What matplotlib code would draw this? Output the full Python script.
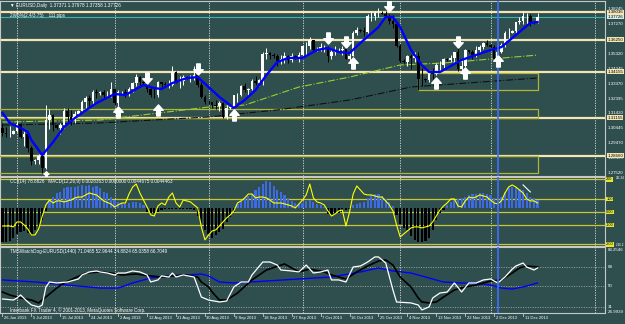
import numpy as np
import matplotlib
matplotlib.use('Agg')
import matplotlib.pyplot as plt
from matplotlib import font_manager
from matplotlib.path import Path
from matplotlib.patches import Rectangle

# ---- data (EURUSD daily, broker with Sunday bars) ----
open_ = [1.3050, 1.3015, 1.3005, 1.3010, 1.3030, 1.3075, 1.2985, 1.3010, 1.2915, 1.2830,
         1.2835, 1.2865, 1.2785, 1.3100, 1.3130, 1.3065, 1.3050, 1.3065, 1.3160, 1.3120,
         1.3100, 1.3140, 1.3160, 1.3220, 1.3240, 1.3225, 1.3280, 1.3275, 1.3280, 1.3260,
         1.3265, 1.3300, 1.3210, 1.3280, 1.3285, 1.3270, 1.3300, 1.3340, 1.3380, 1.3345,
         1.3340, 1.3300, 1.3265, 1.3260, 1.3345, 1.3335, 1.3330, 1.3330, 1.3415, 1.3355,
         1.3355, 1.3380, 1.3375, 1.3375, 1.3395, 1.3330, 1.3250, 1.3220, 1.3215, 1.3200,
         1.3190, 1.3210, 1.3120, 1.3180, 1.3185, 1.3260, 1.3265, 1.3320, 1.3295, 1.3300,
         1.3355, 1.3340, 1.3360, 1.3530, 1.3540, 1.3525, 1.3515, 1.3485, 1.3500, 1.3515,
         1.3490, 1.3520, 1.3500, 1.3525, 1.3580, 1.3580, 1.3620, 1.3555, 1.3565, 1.3575,
         1.3575, 1.3515, 1.3545, 1.3555, 1.3560, 1.3565, 1.3500, 1.3520, 1.3665, 1.3685,
         1.3680, 1.3675, 1.3780, 1.3780, 1.3800, 1.3800, 1.3795, 1.3780, 1.3745, 1.3730,
         1.3585, 1.3485, 1.3480, 1.3515, 1.3505, 1.3520, 1.3370, 1.3365, 1.3360, 1.3410,
         1.3400, 1.3460, 1.3460, 1.3495, 1.3490, 1.3505, 1.3545, 1.3435, 1.3450, 1.3555,
         1.3545, 1.3525, 1.3560, 1.3575, 1.3600, 1.3590, 1.3575, 1.3500, 1.3545, 1.3590,
         1.3665, 1.3670, 1.3680, 1.3740, 1.3745, 1.3780, 1.3780, 1.3740, 1.37371]
high = [1.3080, 1.3055, 1.3060, 1.3035, 1.3090, 1.3080, 1.3030, 1.3020, 1.2930, 1.2845,
        1.2880, 1.2880, 1.3200, 1.3170, 1.3140, 1.3075, 1.3080, 1.3180, 1.3175, 1.3165,
        1.3160, 1.3165, 1.3230, 1.3255, 1.3260, 1.3295, 1.3300, 1.3290, 1.3295, 1.3290,
        1.3345, 1.3310, 1.3295, 1.3290, 1.3300, 1.3315, 1.3345, 1.3400, 1.3390, 1.3355,
        1.3350, 1.3310, 1.3310, 1.3355, 1.3350, 1.3345, 1.3360, 1.3450, 1.3420, 1.3390,
        1.3395, 1.3385, 1.3395, 1.3450, 1.3410, 1.3345, 1.3260, 1.3230, 1.3220, 1.3230,
        1.3225, 1.3215, 1.3200, 1.3190, 1.3265, 1.3275, 1.3325, 1.3340, 1.3310, 1.3365,
        1.3385, 1.3370, 1.3545, 1.3570, 1.3545, 1.3535, 1.3530, 1.3525, 1.3545, 1.3525,
        1.3540, 1.3525, 1.3545, 1.3590, 1.3610, 1.3645, 1.3625, 1.3575, 1.3605, 1.3590,
        1.3585, 1.3570, 1.3585, 1.3570, 1.3580, 1.3575, 1.3550, 1.3680, 1.3705, 1.3695,
        1.3705, 1.3795, 1.3810, 1.3810, 1.3832, 1.3810, 1.3815, 1.3790, 1.3785, 1.3740,
        1.3595, 1.3495, 1.3525, 1.3530, 1.3545, 1.3545, 1.3440, 1.3375, 1.3420, 1.3440,
        1.3470, 1.3485, 1.3505, 1.3505, 1.3525, 1.3545, 1.3575, 1.3495, 1.3565, 1.3560,
        1.3560, 1.3580, 1.3590, 1.3610, 1.3620, 1.3595, 1.3590, 1.3555, 1.3605, 1.3680,
        1.3700, 1.3685, 1.3740, 1.3775, 1.3810, 1.3800, 1.3790, 1.3745, 1.37978]
low = [1.2995, 1.2990, 1.2985, 1.3005, 1.3020, 1.2980, 1.2930, 1.2890, 1.2805, 1.2810,
       1.2810, 1.2755, 1.2780, 1.3040, 1.3030, 1.3040, 1.3010, 1.3050, 1.3085, 1.3065,
       1.3080, 1.3135, 1.3145, 1.3180, 1.3185, 1.3200, 1.3245, 1.3265, 1.3245, 1.3240,
       1.3250, 1.3195, 1.3190, 1.3270, 1.3250, 1.3255, 1.3280, 1.3320, 1.3325, 1.3330,
       1.3285, 1.3250, 1.3240, 1.3250, 1.3315, 1.3325, 1.3310, 1.3320, 1.3340, 1.3310,
       1.3330, 1.3365, 1.3350, 1.3360, 1.3315, 1.3245, 1.3205, 1.3205, 1.3180, 1.3170,
       1.3160, 1.3110, 1.3105, 1.3170, 1.3175, 1.3220, 1.3255, 1.3280, 1.3255, 1.3295,
       1.3330, 1.3320, 1.3330, 1.3500, 1.3500, 1.3505, 1.3455, 1.3465, 1.3470, 1.3470,
       1.3480, 1.3495, 1.3480, 1.3520, 1.3520, 1.3565, 1.3545, 1.3550, 1.3550, 1.3545,
       1.3480, 1.3495, 1.3525, 1.3545, 1.3525, 1.3495, 1.3485, 1.3515, 1.3655, 1.3675,
       1.3650, 1.3665, 1.3745, 1.3750, 1.3770, 1.3790, 1.3770, 1.3730, 1.3700, 1.3575,
       1.3475, 1.3470, 1.3450, 1.3435, 1.3480, 1.3295, 1.3320, 1.3350, 1.3345, 1.3370,
       1.3395, 1.3410, 1.3440, 1.3485, 1.3480, 1.3480, 1.3420, 1.3400, 1.3445, 1.3540,
       1.3500, 1.3510, 1.3540, 1.3565, 1.3580, 1.3570, 1.3495, 1.3475, 1.3540, 1.3575,
       1.3620, 1.3665, 1.3665, 1.3730, 1.3730, 1.3730, 1.3715, 1.3730, 1.37358]
close = [1.3015, 1.3005, 1.3010, 1.3030, 1.3075, 1.2985, 1.3010, 1.2915, 1.2830, 1.2835,
         1.2865, 1.2785, 1.3100, 1.3130, 1.3065, 1.3050, 1.3065, 1.3160, 1.3120, 1.3100,
         1.3140, 1.3160, 1.3220, 1.3240, 1.3225, 1.3280, 1.3275, 1.3280, 1.3260, 1.3265,
         1.3300, 1.3210, 1.3280, 1.3285, 1.3270, 1.3300, 1.3340, 1.3380, 1.3345, 1.3340,
         1.3300, 1.3265, 1.3260, 1.3345, 1.3335, 1.3330, 1.3330, 1.3415, 1.3355, 1.3355,
         1.3380, 1.3375, 1.3375, 1.3395, 1.3330, 1.3250, 1.3220, 1.3215, 1.3200, 1.3190,
         1.3210, 1.3120, 1.3180, 1.3185, 1.3260, 1.3265, 1.3320, 1.3295, 1.3300, 1.3355,
         1.3340, 1.3360, 1.3530, 1.3540, 1.3525, 1.3515, 1.3485, 1.3500, 1.3515, 1.3490,
         1.3520, 1.3500, 1.3525, 1.3580, 1.3580, 1.3620, 1.3555, 1.3565, 1.3575, 1.3575,
         1.3515, 1.3545, 1.3555, 1.3560, 1.3565, 1.3500, 1.3520, 1.3665, 1.3685, 1.3680,
         1.3675, 1.3780, 1.3780, 1.3800, 1.3800, 1.3795, 1.3780, 1.3745, 1.3730, 1.3585,
         1.3485, 1.3480, 1.3515, 1.3505, 1.3520, 1.3370, 1.3365, 1.3360, 1.3410, 1.3400,
         1.3460, 1.3460, 1.3495, 1.3490, 1.3505, 1.3545, 1.3435, 1.3450, 1.3555, 1.3545,
         1.3525, 1.3560, 1.3575, 1.3600, 1.3590, 1.3575, 1.3500, 1.3545, 1.3590, 1.3665,
         1.3670, 1.3680, 1.3740, 1.3745, 1.3780, 1.3780, 1.3740, 1.3737, 1.37726]

# blue moving average (bar index, price)
ma_idx = [0, 2, 5, 7, 8, 11, 14, 17, 20, 22, 26, 31, 34, 39, 42, 44, 47, 51, 54, 57, 60, 64,
          67, 70, 73, 76, 79, 83, 87, 90, 93, 96, 99, 104, 106, 108, 110, 113, 116, 118, 121,
          127, 135, 138, 143, 146, 148]
ma_val = [1.3145, 1.3080, 1.3047, 1.3021, 1.2968, 1.2870, 1.2955, 1.3053, 1.3112, 1.3145,
          1.3210, 1.3269, 1.3263, 1.3328, 1.3308, 1.3302, 1.3341, 1.3374, 1.3380, 1.3315,
          1.3250, 1.3178, 1.3230, 1.3295, 1.3393, 1.3478, 1.3505, 1.3505, 1.3557, 1.3570,
          1.3544, 1.3537, 1.3603, 1.3707, 1.3773, 1.3773, 1.3707, 1.3557, 1.3459, 1.3413,
          1.3413, 1.3492, 1.3557, 1.3576, 1.3675, 1.3734, 1.3740]
# long averages, dash-dot
sma_g_idx = [0, 27, 57, 67, 82, 96, 110, 122, 148]
sma_g_val = [1.3086, 1.3099, 1.3184, 1.3197, 1.3315, 1.3380, 1.3459, 1.3472, 1.3524]
sma_k_idx = [0, 27, 57, 76, 96, 113, 148]
sma_k_val = [1.3066, 1.3080, 1.3119, 1.3165, 1.3230, 1.3315, 1.3374]

# signal arrows (bar index, price)
dn_idx = [40, 54, 90, 95, 107, 126]
dn_val = [1.3374, 1.3433, 1.3635, 1.3609, 1.3845, 1.3609]
up_idx = [32, 43, 64, 97, 120, 128, 137]
up_val = [1.3152, 1.3165, 1.3132, 1.3472, 1.3341, 1.3407, 1.3485]
small_up_idx = [12]
small_up_val = [1.2745]

# horizontal levels and boxes
levels = [1.38036, 1.36250, 1.34155, 1.31155, 1.28660]
boxes = [(115, 148, 1.3295, 1.3407), (-5, 148, 1.3112, 1.3171), (-5, 148, 1.2752, 1.2866)]
price_ticks = [1.38245, 1.37270, 1.36295, 1.35320, 1.34345, 1.33370, 1.32395, 1.31420,
               1.30445, 1.29470, 1.28495, 1.27520]

# CCI (yellow line) and MACD histogram, per bar
cci = [-108, -108, -108, -115, -77, -77, -100, -131, -177, -177,
       -131, -31, 54, 92, 69, 85, 85, 77, 85, 92,
       108, 115, 115, 131, 146, 138, 131, 108, 85, 73,
       62, 38, 54, 69, 69, 138, 192, 215, 146, 92,
       38, -23, -31, 46, 69, 54, 115, 146, 69, 38,
       92, 85, 77, 54, 31, -115, -215, -177, -146, -138,
       -108, -77, -46, -23, 8, 69, 85, 108, 138, 138,
       108, 115, 115, 108, 92, 69, 69, 69, 62, 54,
       46, 31, 62, 92, 131, 215, 108, 77, 69, 54,
       8, -31, -15, 8, 15, -108, 0, 138, 200, 169,
       138, 131, 131, 123, 115, 115, 85, 54, 8, -100,
       -192, -169, -146, -123, -115, -115, -123, -115, -108, -77,
       -31, 15, 46, 69, 100, 100, 46, 38, 85, 115,
       108, 115, 131, 123, 115, 92, 69, 62, 85, 146,
       192, 208, 192, 169, 146, 100, 85, 85, 69]
hist = [-262, -262, -254, -231, -200, -185, -177, -192, -208, -169,
        -146, -92, -23, 62, 85, 115, 123, 154, 162, 162,
        162, 165, 177, 169, 177, 162, 169, 154, 123, 115,
        85, 62, 46, 38, 31, 38, 46, 46, 38, 23,
        -31, -38, -38, -31, -15, -8, -8, -8, -8, -8,
        -8, -8, -12, -15, -62, -115, -169, -200, -231, -208,
        -185, -162, -108, -69, -31, 31, 54, 77, 92, 108,
        138, 162, 185, 208, 200, 169, 138, 123, 100, 77,
        54, 38, 31, 38, 54, 62, 46, 31, 23, 8,
        -46, -54, -46, -38, -31, -15, -8, 23, 31, 38,
        46, 77, 100, 108, 108, 92, 69, 46, 15, -54,
        -123, -154, -169, -215, -246, -262, -262, -254, -231, -169,
        -92, -38, -15, 23, 46, 62, 69, 77, 85, 100,
        108, 108, 115, 115, 108, 100, 77, 62, 85, 123,
        154, 162, 162, 146, 138, 115, 85, 77, 62]
hist_base = 31
cci_levels = [250, 100, 0, -100, -250]
cci_tags = ['200', '100', '0.00', '-100', '-200']
cci_extremes = [(262, '211.34'), (-255, '-216.2')]
cci_trend_idx = [144, 146]
cci_trend_val = [208, 154]

# TMSWatchDog lines (bar index, value)
wd_white_idx = [0, 3, 4, 5, 7, 8, 10, 11, 12, 13, 15, 18, 21, 22, 24, 26, 27, 29, 31, 32,
                34, 36, 38, 40, 41, 43, 44, 46, 47, 48, 50, 53, 54, 55, 57, 60, 62, 64, 66,
                68, 69, 72, 74, 76, 77, 80, 82, 84, 86, 88, 90, 91, 93, 95, 97, 99, 101,
                103, 104, 106, 108, 109, 113, 115, 116, 118, 119, 121, 123, 125, 127, 129,
                131, 133, 135, 137, 139, 141, 142, 144, 145, 147, 148]
wd_white = [38.0, 37.0, 38.9, 41.7, 35.2, 32.4, 30.6, 32.4, 49.1, 53.7, 52.8, 53.7, 56.5,
            60.2, 63.0, 63.9, 63.0, 62.0, 60.2, 62.0, 62.0, 63.9, 63.0, 60.2, 53.7, 55.6,
            59.3, 58.3, 62.0, 58.3, 60.2, 58.3, 49.1, 39.8, 37.0, 35.2, 36.1, 49.1, 53.7,
            53.7, 60.2, 72.2, 72.2, 69.4, 64.8, 63.9, 63.0, 69.4, 62.0, 63.0, 64.8, 55.6,
            55.6, 53.7, 67.6, 68.5, 72.2, 76.9, 76.9, 71.3, 46.3, 35.2, 34.3, 32.4, 27.8,
            30.6, 38.9, 43.5, 44.4, 52.8, 44.4, 52.8, 52.8, 55.6, 56.5, 52.8, 58.3, 65.7,
            68.5, 71.3, 67.6, 64.8, 66.7]
wd_black_idx = [0, 2, 5, 8, 10, 12, 15, 17, 20, 23, 27, 30, 33, 37, 41, 44, 47, 51, 54, 55,
                57, 58, 60, 62, 65, 69, 73, 78, 82, 85, 89, 91, 95, 98, 101, 104, 106, 108,
                110, 113, 115, 116, 118, 120, 122, 125, 128, 131, 135, 138, 141, 143, 145,
                148]
wd_black = [44.4, 41.7, 38.9, 37.0, 34.3, 39.8, 48.1, 52.8, 57.4, 62.0, 63.0, 62.0, 60.2,
            61.1, 59.3, 58.3, 59.3, 60.2, 58.3, 53.7, 49.1, 44.4, 37.0, 37.0, 43.5, 55.6,
            64.8, 70.4, 63.0, 65.7, 63.0, 60.2, 56.5, 63.0, 68.5, 73.1, 74.1, 69.4, 58.3,
            49.1, 38.9, 35.2, 34.3, 35.2, 39.8, 46.3, 49.1, 50.9, 54.6, 55.6, 62.0, 66.7,
            68.5, 67.6]
wd_blue_idx = [0, 9, 18, 27, 32, 36, 41, 46, 51, 55, 57, 60, 64, 73, 82, 91, 99, 104, 108,
               113, 117, 122, 127, 131, 135, 138, 141, 144, 148]
wd_blue = [55.6, 53.7, 50.9, 48.1, 48.1, 52.8, 57.4, 59.3, 60.2, 61.1, 59.3, 53.7, 52.8,
           54.6, 56.5, 58.3, 63.0, 66.7, 63.9, 62.0, 58.3, 53.7, 52.8, 52.8, 50.9, 48.1,
           47.2, 49.1, 52.8]
wd_levels = [68, 50, 31]
wd_tags = [(83.25, '83.2546'), (68, '68'), (50, '50'), (31, '31'), (26.0, '24.9939')]

date_labels = ['26 Jun 2013', '5 Jul 2013', '15 Jul 2013', '24 Jul 2013', '2 Aug 2013',
               '12 Aug 2013', '21 Aug 2013', '30 Aug 2013', '9 Sep 2013', '18 Sep 2013',
               '27 Sep 2013', '7 Oct 2013', '16 Oct 2013', '25 Oct 2013', '4 Nov 2013',
               '13 Nov 2013', '22 Nov 2013', '2 Dec 2013', '11 Dec 2013']
month_starts = [4, 31, 57, 83, 110, 135, 164]   # period separators
marker_bar = 137                               # blue vertical line

# ---- styling ----
names = {f.name for f in font_manager.fontManager.ttflist}
if 'Liberation Sans Narrow' in names:
    FONT, K = 'Liberation Sans Narrow', 1.0
else:
    FONT, K = 'Liberation Sans', 0.82
plt.rcParams['font.family'] = [FONT, 'DejaVu Sans']
FS = 4.1 * K      # header texts
FSR = 3.8 * K     # right scale labels
FSD = 3.6 * K     # date labels

BG = '#2f4f4f'
CREAM = '#f3e6b4'
OLIVE = '#b4b432'
GRID = '#c8c8c8'
W, H = 625, 324
X0, X1 = -0.69, 166.66


def px_axes(y0, y1, x0=0, x1=605):
    ax = fig.add_axes([x0 / W, 1 - y1 / H, (x1 - x0) / W, (y1 - y0) / H])
    ax.set_facecolor(BG)
    ax.set_xlim(X0, X1)
    ax.set_xticks([])
    ax.set_yticks([])
    for s in ax.spines.values():
        s.set_color(GRID)
        s.set_linewidth(0.8)
    for m in month_starts:
        ax.axvline(m, color='#dcdcdc', lw=0.6, ls=(0, (1.5, 1.5)), zorder=1)
    ax.axvline(marker_bar, color='#3f6fff', lw=1.2, zorder=6)
    return ax


def arrow_path(sign):
    v = [(0, 1), (0.85, 0.05), (0.32, 0.05), (0.32, -1), (-0.32, -1), (-0.32, 0.05),
         (-0.85, 0.05), (0, 1)]
    return Path([(x, sign * y) for x, y in v], closed=True)


def tag(ax, y, text, fc=None, color='white', dx=0.004, ha='left', size=None):
    kw = dict(transform=ax.get_yaxis_transform(), color=color, fontsize=size or FSR,
              va='center', ha=ha, clip_on=False, zorder=9)
    if fc:
        kw['bbox'] = dict(boxstyle='square,pad=0.1', fc=fc, ec='none')
    ax.text(1 + dx, y, text, **kw)


fig = plt.figure(figsize=(6.25, 3.24), dpi=100)
fig.patch.set_facecolor(BG)

# ---- main price window ----
ax = px_axes(1, 176)
ax.set_ylim(1.27330, 1.38775)
bars = np.arange(len(close))
o, h, l, c = map(np.array, (open_, high, low, close))
bull = c >= o
col = np.where(bull, 'white', 'black')
for lv in levels:
    ax.axhline(lv, color=CREAM, lw=1.6, zorder=2)
ax.axhline(close[-1], color='#3cb4aa', lw=0.8, zorder=2)
for b0, b1, p0, p1 in boxes:
    ax.add_patch(Rectangle((b0, p0), b1 - b0, p1 - p0, fill=False, ec=OLIVE, lw=0.9, zorder=3))
ax.plot(sma_g_idx, sma_g_val, color='#9acd32', lw=0.8, ls='-.', zorder=3)
ax.plot(sma_k_idx, sma_k_val, color='#101010', lw=0.8, ls='-.', zorder=3)
ax.vlines(bars, l, h, colors=col, lw=0.7, zorder=4)
ax.bar(bars, np.maximum(np.abs(c - o), 0.00012), bottom=np.minimum(o, c), width=0.72,
       color=col, lw=0, zorder=4)
ax.plot(ma_idx, ma_val, color='#0000ff', lw=1.7, zorder=5)
ax.plot(up_idx, up_val, ls='none', marker=arrow_path(1), ms=8, color='white', zorder=7)
ax.plot(dn_idx, dn_val, ls='none', marker=arrow_path(-1), ms=8, color='white', zorder=7)
ax.plot(small_up_idx, small_up_val, ls='none', marker=arrow_path(1), ms=4, color='white', zorder=7)
ax.text(2, 1.3847, '\u25bc EURUSD,Daily  %.5f %.5f %.5f %.5f' % (open_[-1], high[-1], low[-1], close[-1]),
        color='white', fontsize=FS, va='center', zorder=8)
ax.text(2, 1.3783, '2W5%(2.4/3.75)    111 pips', color='white', fontsize=FS, va='center', zorder=8)
for p in price_ticks:
    tag(ax, p, '%.5f' % p)
for lv in levels:
    tag(ax, lv, '%.5f' % lv, fc=CREAM, color='black')
tag(ax, close[-1], '%.5f' % close[-1], fc='#d8ece8', color='black')

# ---- CCI / MACD window ----
ax2 = px_axes(177, 246)
ax2.set_ylim(-262, 269)
hv = np.array(hist)
ax2.bar(bars, hv, bottom=hist_base, width=0.6, lw=0,
        color=np.where(hv >= 0, '#3e6ae6', 'black'), zorder=3)
for lv in cci_levels:
    ax2.axhline(lv, color='#c8c832', lw=0.9, zorder=2)
ax2.plot(bars, cci, color='#ffff00', lw=0.8, zorder=5)
ax2.plot(cci_trend_idx, cci_trend_val, color='white', lw=0.8, zorder=5)
ax2.text(2, 238, 'CCI(14) 78.8826   MACD(12,26,9) 0.0028363 0.0000000 0.0044675 0.0044463',
         color='white', fontsize=FS, va='center', zorder=8)
for lv, t in zip(cci_levels, cci_tags):
    tag(ax2, lv, t, fc='#e6e632', color='black', dx=0.002, size=FSR * 0.9)
for v, t in cci_extremes:
    tag(ax2, v, t, dx=(615.5 - 605) / 605, size=FSR * 0.7)

# ---- TMSWatchDog window ----
ax3 = px_axes(247, 313)
ax3.set_ylim(24.99, 86.1)
for lv in wd_levels:
    ax3.axhline(lv, color='#c0c0c0', lw=0.5, ls=(0, (1.5, 2)), zorder=2)
ax3.plot(wd_blue_idx, wd_blue, color='#0000ff', lw=1.0, zorder=4)
ax3.plot(wd_black_idx, wd_black, color='black', lw=1.2, zorder=4)
ax3.plot(wd_white_idx, wd_white, color='white', lw=0.9, zorder=5)
ax3.text(2, 82.3, 'TMSWatchDog-EURUSD(1440) 71.0465 52.9644 34.8824 65.0358 66.7049',
         color='white', fontsize=FS, va='center', zorder=8)
ax3.text(2, 27.8, 'Interbank FX Trader 4, \u00a9 2001-2013, MetaQuotes Software Corp.',
         color='white', fontsize=FS, va='center', zorder=8)
for v, t in wd_tags:
    tag(ax3, v, t)

# date labels every 8 bars
xtr = ax3.get_xaxis_transform()
for k, lab in enumerate(date_labels):
    b = 8 * k
    ax3.text(b + 0.4, -0.05, lab, transform=xtr, color='white',
             fontsize=FSD, va='top', ha='left', clip_on=False)
    ax3.plot([b, b], [0, -0.05], transform=xtr, color=GRID, lw=0.6, clip_on=False)

fig.savefig('out.png', dpi=100, facecolor=BG)
